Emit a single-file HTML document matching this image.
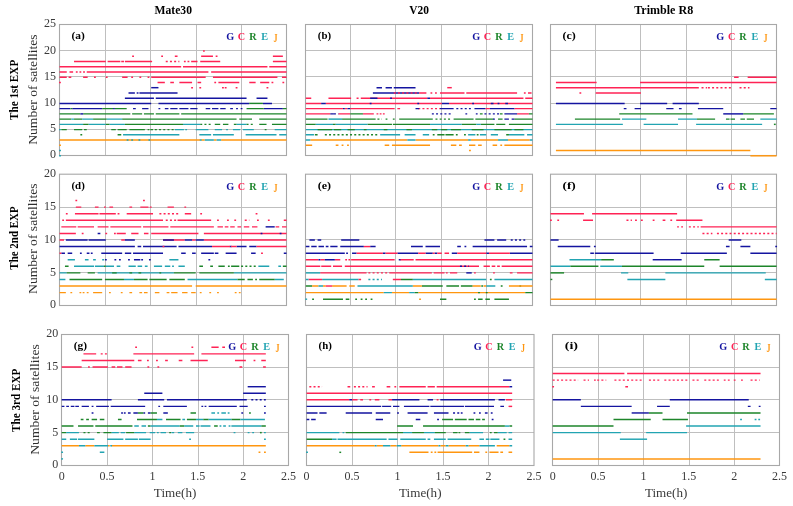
<!DOCTYPE html><html><head><meta charset="utf-8"><style>html,body{margin:0;padding:0;background:#fff;}svg{display:block;will-change:transform}text{font-family:"Liberation Serif",serif}</style></head><body><svg width="793" height="506" viewBox="0 0 793 506"><rect width="793" height="506" fill="#fff"/><path d="M105.50 24.50V155.50M150.50 24.50V155.50M196.50 24.50V155.50M241.50 24.50V155.50M59.50 129.50H286.50M59.50 103.50H286.50M59.50 76.50H286.50M59.50 50.50H286.50" stroke="#bfbfbf" stroke-width="1" fill="none"/><rect x="59.50" y="24.50" width="227.00" height="131.00" fill="none" stroke="#a8a8a8" stroke-width="1.1"/><path d="M202.96 51.00H204.78" stroke="#ff2355" stroke-width="1.45" fill="none"/><path d="M132.14 56.24H133.96M161.20 56.24H163.01M174.82 56.24H177.54M201.15 56.24H212.95M215.68 56.24H217.49M272.88 56.24H282.87" stroke="#ff2355" stroke-width="1.45" fill="none"/><path d="M74.03 61.48H105.81M107.62 61.48H120.34M121.24 61.48H123.97M124.88 61.48H152.12M183.90 61.48H185.71M187.53 61.48H189.34M191.16 61.48H197.52M200.24 61.48H220.22M272.88 61.48H286.50" stroke="#ff2355" stroke-width="1.45" fill="none"/><path d="M165.74 61.48H179.36" stroke="#ff2355" stroke-width="1.45" fill="none" stroke-dasharray="2 2.2"/><path d="M59.50 66.72H181.17M182.99 66.72H267.43M269.25 66.72H286.50" stroke="#ff2355" stroke-width="1.45" fill="none"/><path d="M59.50 71.96H66.76M69.49 71.96H73.12M75.84 71.96H77.66M79.48 71.96H81.29M83.11 71.96H84.92M86.74 71.96H208.41M211.14 71.96H286.50" stroke="#ff2355" stroke-width="1.45" fill="none"/><path d="M59.50 77.20H66.76M68.58 77.20H71.30M83.11 77.20H87.65M94.00 77.20H95.82M105.81 77.20H107.62M122.15 77.20H127.60M131.23 77.20H133.05M139.40 77.20H141.22M147.58 77.20H149.39M151.21 77.20H205.69M212.95 77.20H277.42M281.96 77.20H286.50" stroke="#ff2355" stroke-width="1.45" fill="none"/><path d="M59.05 82.44H60.85M157.56 82.44H164.83M170.28 82.44H173.91M179.36 82.44H192.07M197.52 82.44H201.15M214.32 82.44H216.12M218.40 82.44H239.28M249.27 82.44H255.63M260.17 82.44H269.25M271.53 82.44H273.33M282.42 82.44H284.22" stroke="#ff2355" stroke-width="1.45" fill="none"/><path d="M191.16 87.68H192.98M199.33 87.68H201.15M222.03 87.68H223.85M224.76 87.68H226.57M235.65 87.68H237.47M266.52 87.68H268.34" stroke="#ff2355" stroke-width="1.45" fill="none"/><path d="M151.21 87.68H158.47" stroke="#1414a0" stroke-width="1.45" fill="none"/><path d="M128.51 92.92H134.86M136.68 92.92H138.50M139.40 92.92H177.54" stroke="#1414a0" stroke-width="1.45" fill="none"/><path d="M124.88 98.16H153.93M155.75 98.16H246.55M256.54 98.16H267.43" stroke="#1414a0" stroke-width="1.45" fill="none"/><path d="M59.50 103.40H151.21M158.47 103.40H249.27M262.89 103.40H271.97" stroke="#1414a0" stroke-width="1.45" fill="none"/><path d="M249.27 103.40H262.89" stroke="#1d852a" stroke-width="1.45" fill="none"/><path d="M59.50 108.64H70.40M72.21 108.64H102.18M113.07 108.64H114.89M133.05 108.64H135.77M142.13 108.64H148.48M158.47 108.64H160.29M164.83 108.64H168.46M170.28 108.64H177.54M179.36 108.64H188.44M190.25 108.64H197.52M205.69 108.64H210.23M212.04 108.64H218.40M220.22 108.64H225.66M230.20 108.64H232.93M236.11 108.64H237.91M240.65 108.64H242.45M263.80 108.64H282.87" stroke="#1414a0" stroke-width="1.45" fill="none"/><path d="M70.40 108.64H72.21M102.18 108.64H113.07M114.89 108.64H126.69M246.55 108.64H263.80M282.87 108.64H286.50" stroke="#1d852a" stroke-width="1.45" fill="none"/><path d="M59.50 113.88H80.38M83.11 113.88H130.32M132.14 113.88H142.13M143.94 113.88H153.93M155.75 113.88H179.36M181.17 113.88H286.50" stroke="#1d852a" stroke-width="1.45" fill="none"/><path d="M80.38 113.88H83.11" stroke="#1414a0" stroke-width="1.45" fill="none"/><path d="M59.50 119.12H71.30M74.03 119.12H82.20M93.10 119.12H106.72M122.15 119.12H236.56M239.28 119.12H252.00M259.26 119.12H286.50" stroke="#1d852a" stroke-width="1.45" fill="none"/><path d="M71.30 119.12H74.03M82.20 119.12H93.10M106.72 119.12H122.15" stroke="#22a4b2" stroke-width="1.45" fill="none"/><path d="M59.50 124.36H83.11M88.56 124.36H105.81M109.44 124.36H124.88M182.99 124.36H200.24M236.56 124.36H246.55" stroke="#22a4b2" stroke-width="1.45" fill="none"/><path d="M83.11 124.36H88.56M105.81 124.36H109.44M124.88 124.36H182.99M214.77 124.36H220.22M222.94 124.36H228.39M233.84 124.36H236.56M259.26 124.36H266.52M271.97 124.36H286.50" stroke="#1d852a" stroke-width="1.45" fill="none"/><path d="M200.24 124.36H211.14M246.55 124.36H253.81" stroke="#1d852a" stroke-width="1.45" fill="none" stroke-dasharray="2 2.2"/><path d="M61.32 129.60H66.76M74.03 129.60H82.20M84.02 129.60H86.74M111.26 129.60H115.80M117.61 129.60H126.69M129.42 129.60H144.85M147.58 129.60H149.39M150.30 129.60H153.02M264.71 129.60H266.52" stroke="#1d852a" stroke-width="1.45" fill="none"/><path d="M154.84 129.60H174.82" stroke="#1d852a" stroke-width="1.45" fill="none" stroke-dasharray="2 2.2"/><path d="M59.05 129.60H60.85M174.82 129.60H183.90M185.27 129.60H187.07M195.70 129.60H208.41M214.77 129.60H222.03M226.13 129.60H227.93M232.93 129.60H240.19M242.92 129.60H253.81M274.70 129.60H286.50" stroke="#22a4b2" stroke-width="1.45" fill="none"/><path d="M80.38 134.84H82.20M117.61 134.84H121.24" stroke="#1d852a" stroke-width="1.45" fill="none"/><path d="M123.06 134.84H179.36M199.33 134.84H211.14M212.95 134.84H233.84M245.64 134.84H276.51M279.24 134.84H286.50" stroke="#22a4b2" stroke-width="1.45" fill="none"/><path d="M59.50 140.08H200.24M201.15 140.08H204.78M213.86 140.08H216.58M221.12 140.08H286.50" stroke="#ff960f" stroke-width="1.45" fill="none"/><path d="M126.69 140.08H128.51M131.23 140.08H133.05M138.50 140.08H140.31M148.48 140.08H150.30M199.79 140.08H201.59M204.78 140.08H213.86M216.58 140.08H221.12" stroke="#22a4b2" stroke-width="1.45" fill="none"/><path d="M59.14 145.32H60.94" stroke="#ff960f" stroke-width="1.45" fill="none"/><path d="M59.14 150.56H60.94" stroke="#22a4b2" stroke-width="1.45" fill="none"/><path d="M59.14 155.80H60.94" stroke="#22a4b2" stroke-width="1.45" fill="none"/><text x="71.50" y="39.40" font-weight="bold" font-size="10.6" textLength="13.3" lengthAdjust="spacingAndGlyphs">(a)</text><text x="226.20" y="40.20" font-weight="bold" font-size="10.2" fill="#1414a0">G</text><text x="237.80" y="40.20" font-weight="bold" font-size="10.2" fill="#ff2355">C</text><text x="249.20" y="40.20" font-weight="bold" font-size="10.2" fill="#1d852a">R</text><text x="261.30" y="40.20" font-weight="bold" font-size="10.2" fill="#22a4b2">E</text><text transform="translate(273.40,33.20) scale(0.78,1.3)" y="6.9" font-weight="bold" font-size="10.2" fill="#ff960f">J</text><text x="56.10" y="158.45" text-anchor="end" font-size="12" fill="#3a3a3a">0</text><text x="56.10" y="132.25" text-anchor="end" font-size="12" fill="#3a3a3a">5</text><text x="56.10" y="106.05" text-anchor="end" font-size="12" fill="#3a3a3a">10</text><text x="56.10" y="79.85" text-anchor="end" font-size="12" fill="#3a3a3a">15</text><text x="56.10" y="53.65" text-anchor="end" font-size="12" fill="#3a3a3a">20</text><text x="56.10" y="27.45" text-anchor="end" font-size="12" fill="#3a3a3a">25</text><path d="M350.50 24.50V155.50M395.50 24.50V155.50M441.50 24.50V155.50M486.50 24.50V155.50M305.80 129.50H532.50M305.80 103.50H532.50M305.80 76.50H532.50M305.80 50.50H532.50" stroke="#bfbfbf" stroke-width="1" fill="none"/><rect x="305.50" y="24.50" width="227.00" height="131.00" fill="none" stroke="#a8a8a8" stroke-width="1.1"/><path d="M376.53 87.68H381.97M385.60 87.68H391.95M393.76 87.68H415.52" stroke="#1414a0" stroke-width="1.45" fill="none"/><path d="M447.26 87.68H451.79" stroke="#ff2355" stroke-width="1.45" fill="none"/><path d="M372.90 92.92H419.15" stroke="#1414a0" stroke-width="1.45" fill="none"/><path d="M419.15 92.92H426.40M430.49 92.92H432.29M435.03 92.92H436.83M440.01 92.92H464.49M466.30 92.92H517.08M523.89 92.92H525.69M527.97 92.92H531.59" stroke="#ff2355" stroke-width="1.45" fill="none"/><path d="M393.76 92.92H419.15" stroke="#ff2355" stroke-width="1.45" fill="none" stroke-dasharray="2 2.2"/><path d="M305.80 98.16H311.24M328.47 98.16H351.14M362.02 98.16H427.31M430.03 98.16H523.43M525.25 98.16H532.50" stroke="#ff2355" stroke-width="1.45" fill="none"/><path d="M356.58 98.16H362.02" stroke="#ff2355" stroke-width="1.45" fill="none" stroke-dasharray="2 2.2"/><path d="M370.18 98.16H377.44M390.13 98.16H391.95M427.31 98.16H430.03" stroke="#1414a0" stroke-width="1.45" fill="none"/><path d="M305.80 103.40H321.22M325.75 103.40H441.82M449.07 103.40H532.50" stroke="#ff2355" stroke-width="1.45" fill="none"/><path d="M321.22 103.40H325.75M369.74 103.40H371.54M417.34 103.40H419.15M441.82 103.40H449.07M472.20 103.40H474.00M490.79 103.40H493.51M497.60 103.40H499.39M505.30 103.40H508.02" stroke="#1414a0" stroke-width="1.45" fill="none"/><path d="M305.80 108.64H342.98M344.79 108.64H347.51M350.23 108.64H394.67M397.39 108.64H400.11M485.35 108.64H489.88M514.36 108.64H532.50" stroke="#ff2355" stroke-width="1.45" fill="none"/><path d="M418.24 108.64H440.01" stroke="#ff2355" stroke-width="1.45" fill="none" stroke-dasharray="2 2.2"/><path d="M342.98 108.64H344.79M347.51 108.64H350.23M415.52 108.64H419.15M440.01 108.64H453.61M474.46 108.64H485.35M489.88 108.64H514.36" stroke="#1414a0" stroke-width="1.45" fill="none"/><path d="M456.33 108.64H470.84" stroke="#1414a0" stroke-width="1.45" fill="none" stroke-dasharray="2 2.2"/><path d="M305.80 113.88H330.28M338.44 113.88H350.23M362.93 113.88H373.81M376.53 113.88H378.34M379.71 113.88H381.51M382.88 113.88H384.69M517.08 113.88H528.87" stroke="#ff2355" stroke-width="1.45" fill="none"/><path d="M330.28 113.88H333.91M465.40 113.88H467.21M475.83 113.88H477.63M504.39 113.88H517.08" stroke="#1414a0" stroke-width="1.45" fill="none"/><path d="M333.91 113.88H338.44M431.85 113.88H451.79M484.44 113.88H499.86" stroke="#1414a0" stroke-width="1.45" fill="none" stroke-dasharray="2 2.2"/><path d="M350.23 113.88H362.93M479.91 113.88H482.63M499.86 113.88H502.58M528.87 113.88H532.50" stroke="#1d852a" stroke-width="1.45" fill="none"/><path d="M305.80 119.12H327.56M342.07 119.12H375.62M385.60 119.12H387.41M392.85 119.12H394.67M399.20 119.12H432.75M453.61 119.12H473.56M475.37 119.12H493.51M498.04 119.12H502.58M514.36 119.12H532.50" stroke="#1d852a" stroke-width="1.45" fill="none"/><path d="M377.44 119.12H381.97M435.47 119.12H451.79" stroke="#1d852a" stroke-width="1.45" fill="none" stroke-dasharray="2 2.2"/><path d="M328.47 119.12H342.07" stroke="#22a4b2" stroke-width="1.45" fill="none"/><path d="M493.06 119.12H494.86M504.39 119.12H508.92M511.64 119.12H514.36" stroke="#1414a0" stroke-width="1.45" fill="none"/><path d="M305.80 124.36H315.77M333.00 124.36H335.72M367.46 124.36H391.95M392.85 124.36H430.03M461.77 124.36H476.28M480.81 124.36H494.41M496.23 124.36H505.30M508.92 124.36H532.50" stroke="#1d852a" stroke-width="1.45" fill="none"/><path d="M315.77 124.36H333.00M335.72 124.36H367.46M430.03 124.36H461.77M476.28 124.36H480.81" stroke="#22a4b2" stroke-width="1.45" fill="none"/><path d="M305.80 129.60H532.50" stroke="#22a4b2" stroke-width="1.45" fill="none"/><path d="M317.59 129.60H332.10M333.91 129.60H341.17M347.51 129.60H354.77M363.84 129.60H366.56M383.78 129.60H387.41M406.45 129.60H411.90M431.85 129.60H437.29M440.91 129.60H447.26M450.89 129.60H460.86M471.74 129.60H483.53M494.41 129.60H511.64M514.36 129.60H523.43" stroke="#1d852a" stroke-width="1.45" fill="none"/><path d="M305.80 134.84H313.96M380.16 134.84H400.11M404.64 134.84H415.52M422.78 134.84H429.12M468.12 134.84H475.37M479.91 134.84H486.25M490.79 134.84H498.04M508.92 134.84H524.34M527.06 134.84H532.50" stroke="#22a4b2" stroke-width="1.45" fill="none"/><path d="M314.87 134.84H317.59M432.75 134.84H434.57M437.29 134.84H444.54M445.45 134.84H453.61M455.88 134.84H457.68M464.04 134.84H465.84M476.74 134.84H478.54M506.20 134.84H508.92" stroke="#1d852a" stroke-width="1.45" fill="none"/><path d="M324.84 134.84H377.44" stroke="#1d852a" stroke-width="1.45" fill="none" stroke-dasharray="2 2.2"/><path d="M310.33 140.08H407.36M415.52 140.08H468.12M470.84 140.08H498.04M508.02 140.08H529.78" stroke="#ff960f" stroke-width="1.45" fill="none"/><path d="M305.80 140.08H310.33M407.36 140.08H415.52M468.12 140.08H470.84M498.04 140.08H508.02M529.78 140.08H532.50" stroke="#22a4b2" stroke-width="1.45" fill="none"/><path d="M305.80 145.32H312.15M335.72 145.32H338.44M341.63 145.32H343.43M347.07 145.32H348.87M384.69 145.32H389.23M391.95 145.32H430.03M450.89 145.32H456.33M459.05 145.32H461.77M469.02 145.32H475.37M478.09 145.32H481.72M492.60 145.32H497.13M500.32 145.32H502.12M504.39 145.32H532.50" stroke="#ff960f" stroke-width="1.45" fill="none"/><path d="M469.02 150.56H470.84" stroke="#ff960f" stroke-width="1.45" fill="none"/><text x="317.80" y="39.40" font-weight="bold" font-size="10.6" textLength="13.3" lengthAdjust="spacingAndGlyphs">(b)</text><text x="472.20" y="40.20" font-weight="bold" font-size="10.2" fill="#1414a0">G</text><text x="483.80" y="40.20" font-weight="bold" font-size="10.2" fill="#ff2355">C</text><text x="495.20" y="40.20" font-weight="bold" font-size="10.2" fill="#1d852a">R</text><text x="507.30" y="40.20" font-weight="bold" font-size="10.2" fill="#22a4b2">E</text><text transform="translate(519.40,33.20) scale(0.78,1.3)" y="6.9" font-weight="bold" font-size="10.2" fill="#ff960f">J</text><path d="M595.50 24.50V155.50M640.50 24.50V155.50M686.50 24.50V155.50M731.50 24.50V155.50M550.50 129.50H776.60M550.50 103.50H776.60M550.50 76.50H776.60M550.50 50.50H776.60" stroke="#bfbfbf" stroke-width="1" fill="none"/><rect x="550.50" y="24.50" width="226.00" height="131.00" fill="none" stroke="#a8a8a8" stroke-width="1.1"/><path d="M734.09 77.20H738.62M747.66 77.20H776.60" stroke="#ff2355" stroke-width="1.45" fill="none"/><path d="M555.93 82.44H596.62M640.04 82.44H776.60" stroke="#ff2355" stroke-width="1.45" fill="none"/><path d="M555.93 87.68H698.82" stroke="#ff2355" stroke-width="1.45" fill="none"/><path d="M701.53 87.68H706.96M707.87 87.68H731.38M739.52 87.68H749.47" stroke="#ff2355" stroke-width="1.45" fill="none" stroke-dasharray="2 2.2"/><path d="M579.44 92.92H581.25M595.72 92.92H640.94" stroke="#ff2355" stroke-width="1.45" fill="none"/><path d="M555.93 103.40H624.66M640.04 103.40H667.17M672.59 103.40H698.82" stroke="#1414a0" stroke-width="1.45" fill="none"/><path d="M623.76 108.64H626.47M634.61 108.64H640.94M666.26 108.64H673.50M678.92 108.64H681.64M697.92 108.64H723.24M770.27 108.64H776.60" stroke="#1414a0" stroke-width="1.45" fill="none"/><path d="M619.23 113.88H692.49M743.14 113.88H773.89" stroke="#1d852a" stroke-width="1.45" fill="none"/><path d="M723.24 113.88H743.14" stroke="#1414a0" stroke-width="1.45" fill="none"/><path d="M574.92 119.12H620.14M697.01 119.12H715.10M725.95 119.12H729.57M730.48 119.12H735.00M740.42 119.12H744.95M746.75 119.12H753.99" stroke="#1d852a" stroke-width="1.45" fill="none"/><path d="M621.95 119.12H646.37M678.02 119.12H697.01M760.32 119.12H776.60" stroke="#22a4b2" stroke-width="1.45" fill="none"/><path d="M555.93 124.36H622.85M643.65 124.36H678.02M696.11 124.36H762.13" stroke="#22a4b2" stroke-width="1.45" fill="none"/><path d="M773.89 124.36H775.70" stroke="#1d852a" stroke-width="1.45" fill="none"/><path d="M555.93 150.56H750.37" stroke="#ff960f" stroke-width="1.45" fill="none"/><path d="M750.37 155.80H776.60" stroke="#ff960f" stroke-width="1.45" fill="none"/><text x="562.50" y="39.40" font-weight="bold" font-size="10.6" textLength="13.3" lengthAdjust="spacingAndGlyphs">(c)</text><text x="716.30" y="40.20" font-weight="bold" font-size="10.2" fill="#1414a0">G</text><text x="727.90" y="40.20" font-weight="bold" font-size="10.2" fill="#ff2355">C</text><text x="739.30" y="40.20" font-weight="bold" font-size="10.2" fill="#1d852a">R</text><text x="751.40" y="40.20" font-weight="bold" font-size="10.2" fill="#22a4b2">E</text><text transform="translate(763.50,33.20) scale(0.78,1.3)" y="6.9" font-weight="bold" font-size="10.2" fill="#ff960f">J</text><path d="M105.50 174.20V305.40M150.50 174.20V305.40M196.50 174.20V305.40M241.50 174.20V305.40M59.50 272.50H286.50M59.50 239.50H286.50M59.50 207.50H286.50" stroke="#bfbfbf" stroke-width="1" fill="none"/><rect x="59.50" y="174.20" width="227.00" height="131.30" fill="none" stroke="#a8a8a8" stroke-width="1.1"/><path d="M75.40 200.55H77.20M143.04 200.55H144.85" stroke="#ff2355" stroke-width="1.45" fill="none"/><path d="M75.84 207.12H81.29M94.91 207.12H98.54M103.99 207.12H105.81M109.44 207.12H113.07M129.42 207.12H132.14M140.31 207.12H148.48M149.85 207.12H151.65M167.55 207.12H173.91M184.36 207.12H186.16" stroke="#ff2355" stroke-width="1.45" fill="none"/><path d="M65.86 213.70H67.67M74.94 213.70H98.54M99.45 213.70H115.80M117.61 213.70H119.43M126.69 213.70H153.02M184.80 213.70H191.16M200.24 213.70H202.06M255.63 213.70H257.44" stroke="#ff2355" stroke-width="1.45" fill="none"/><path d="M159.38 213.70H180.26" stroke="#ff2355" stroke-width="1.45" fill="none" stroke-dasharray="2 2.2"/><path d="M62.22 220.28H64.04M65.86 220.28H163.01M177.54 220.28H211.14M217.05 220.28H218.85M227.03 220.28H228.83M234.30 220.28H236.10M257.00 220.28H258.80M267.89 220.28H269.69M283.78 220.28H286.50" stroke="#ff2355" stroke-width="1.45" fill="none"/><path d="M165.74 220.28H176.63M244.73 220.28H249.27" stroke="#ff2355" stroke-width="1.45" fill="none" stroke-dasharray="2 2.2"/><path d="M61.32 226.85H76.30M77.66 226.85H94.00M97.64 226.85H108.53M110.35 226.85H141.22M143.04 226.85H168.46M170.28 226.85H213.86M217.49 226.85H222.94M224.76 226.85H228.39M230.20 226.85H234.74M237.47 226.85H241.10M243.82 226.85H249.27M252.00 226.85H257.44M275.60 226.85H279.24M281.96 226.85H286.50" stroke="#ff2355" stroke-width="1.45" fill="none"/><path d="M265.62 226.85H274.70" stroke="#1414a0" stroke-width="1.45" fill="none"/><path d="M59.50 233.43H75.84M81.75 233.43H83.55M105.36 233.43H107.16M113.98 233.43H115.80M116.70 233.43H125.78M131.23 233.43H138.50M143.94 233.43H148.48M151.21 233.43H198.42M203.87 233.43H286.50" stroke="#ff2355" stroke-width="1.45" fill="none"/><path d="M97.64 233.43H100.36M260.63 233.43H262.43M279.70 233.43H281.50" stroke="#1414a0" stroke-width="1.45" fill="none"/><path d="M59.50 240.00H64.04M121.24 240.00H124.88M163.01 240.00H184.80M192.07 240.00H195.70M203.87 240.00H286.50" stroke="#ff2355" stroke-width="1.45" fill="none"/><path d="M65.86 240.00H87.65M88.56 240.00H105.81M124.88 240.00H134.86M163.01 240.00H173.91M184.80 240.00H192.07M195.70 240.00H203.87" stroke="#1414a0" stroke-width="1.45" fill="none"/><path d="M59.50 246.57H134.86M137.59 246.57H141.22M143.04 246.57H176.63M178.45 246.57H212.04M229.76 246.57H231.56M236.56 246.57H246.55M249.27 246.57H256.54" stroke="#1414a0" stroke-width="1.45" fill="none"/><path d="M162.57 246.57H164.37M212.04 246.57H230.20M231.11 246.57H236.56M256.54 246.57H286.50" stroke="#ff2355" stroke-width="1.45" fill="none"/><path d="M61.32 253.15H64.95M67.67 253.15H72.21M79.94 253.15H81.74M86.74 253.15H89.46M90.83 253.15H92.63M101.27 253.15H122.15M124.88 253.15H131.23M133.05 253.15H163.01M181.17 253.15H185.71M192.07 253.15H195.70M201.15 253.15H213.86M214.77 253.15H218.40M225.66 253.15H236.56M251.09 253.15H255.63M283.78 253.15H286.50" stroke="#1414a0" stroke-width="1.45" fill="none"/><path d="M59.50 253.15H61.32M261.08 253.15H262.89" stroke="#ff2355" stroke-width="1.45" fill="none"/><path d="M67.67 259.73H74.94M84.92 259.73H88.56M93.10 259.73H95.82M102.18 259.73H103.99M169.37 259.73H178.45" stroke="#22a4b2" stroke-width="1.45" fill="none"/><path d="M104.90 259.73H106.72M114.44 259.73H116.24M118.98 259.73H120.78M128.06 259.73H129.86M133.96 259.73H140.31M141.22 259.73H143.04M148.95 259.73H150.75M208.41 259.73H210.23" stroke="#1414a0" stroke-width="1.45" fill="none"/><path d="M64.95 266.30H68.58M103.99 266.30H105.81M199.33 266.30H202.96M210.23 266.30H212.95M218.40 266.30H224.76M227.94 266.30H229.74M231.11 266.30H239.28M282.87 266.30H286.50" stroke="#1d852a" stroke-width="1.45" fill="none"/><path d="M241.10 266.30H256.54" stroke="#1d852a" stroke-width="1.45" fill="none" stroke-dasharray="2 2.2"/><path d="M74.03 266.30H94.00M94.91 266.30H103.99M105.81 266.30H113.98M116.70 266.30H120.34M128.51 266.30H135.77M137.59 266.30H142.13M144.85 266.30H147.58M153.93 266.30H162.10M164.83 266.30H170.28M172.09 266.30H173.91M178.45 266.30H184.80M258.35 266.30H269.25M278.33 266.30H281.05" stroke="#22a4b2" stroke-width="1.45" fill="none"/><path d="M59.50 272.88H66.76M97.64 272.88H173.91M233.84 272.88H286.50" stroke="#22a4b2" stroke-width="1.45" fill="none"/><path d="M66.76 272.88H80.38M87.65 272.88H94.91M112.16 272.88H116.70M129.42 272.88H132.14M138.50 272.88H141.22M159.38 272.88H161.20M173.91 272.88H195.70M199.33 272.88H233.84" stroke="#1d852a" stroke-width="1.45" fill="none"/><path d="M59.50 279.45H65.40M123.97 279.45H133.96M187.53 279.45H237.47M274.70 279.45H283.78" stroke="#22a4b2" stroke-width="1.45" fill="none"/><path d="M69.49 279.45H102.18M104.90 279.45H123.97M133.96 279.45H147.58M149.39 279.45H166.64M169.37 279.45H184.80M237.47 279.45H244.73M247.46 279.45H252.90M255.18 279.45H256.98M259.26 279.45H274.70" stroke="#1d852a" stroke-width="1.45" fill="none"/><path d="M59.50 286.02H192.07M195.70 286.02H286.50" stroke="#ff960f" stroke-width="1.45" fill="none"/><path d="M59.50 292.60H65.86M70.40 292.60H72.21M79.48 292.60H81.29M82.66 292.60H84.46M86.74 292.60H88.56M93.10 292.60H102.18M108.99 292.60H110.79M120.80 292.60H122.60M129.42 292.60H132.14M139.40 292.60H142.13M143.94 292.60H147.58M154.84 292.60H159.38M166.64 292.60H169.37M171.18 292.60H177.54M182.08 292.60H187.53M191.16 292.60H195.70M199.79 292.60H201.59M209.32 292.60H211.14M217.05 292.60H218.85M234.74 292.60H236.56M238.84 292.60H240.64" stroke="#ff960f" stroke-width="1.45" fill="none"/><text x="71.50" y="189.10" font-weight="bold" font-size="10.6" textLength="13.3" lengthAdjust="spacingAndGlyphs">(d)</text><text x="226.20" y="189.90" font-weight="bold" font-size="10.2" fill="#1414a0">G</text><text x="237.80" y="189.90" font-weight="bold" font-size="10.2" fill="#ff2355">C</text><text x="249.20" y="189.90" font-weight="bold" font-size="10.2" fill="#1d852a">R</text><text x="261.30" y="189.90" font-weight="bold" font-size="10.2" fill="#22a4b2">E</text><text transform="translate(273.40,182.90) scale(0.78,1.3)" y="6.9" font-weight="bold" font-size="10.2" fill="#ff960f">J</text><text x="56.10" y="308.35" text-anchor="end" font-size="12" fill="#3a3a3a">0</text><text x="56.10" y="275.55" text-anchor="end" font-size="12" fill="#3a3a3a">5</text><text x="56.10" y="242.75" text-anchor="end" font-size="12" fill="#3a3a3a">10</text><text x="56.10" y="209.95" text-anchor="end" font-size="12" fill="#3a3a3a">15</text><text x="56.10" y="177.15" text-anchor="end" font-size="12" fill="#3a3a3a">20</text><path d="M350.50 174.20V305.40M395.50 174.20V305.40M441.50 174.20V305.40M486.50 174.20V305.40M305.80 272.50H532.50M305.80 239.50H532.50M305.80 207.50H532.50" stroke="#bfbfbf" stroke-width="1" fill="none"/><rect x="305.50" y="174.20" width="227.00" height="131.30" fill="none" stroke="#a8a8a8" stroke-width="1.1"/><path d="M309.43 240.00H314.87M317.59 240.00H321.22M341.17 240.00H359.30M484.44 240.00H494.41M497.13 240.00H506.20" stroke="#1414a0" stroke-width="1.45" fill="none"/><path d="M510.74 240.00H525.25" stroke="#1414a0" stroke-width="1.45" fill="none" stroke-dasharray="2 2.2"/><path d="M305.80 246.57H309.43M311.24 246.57H316.68M318.50 246.57H323.94M325.75 246.57H328.47M330.28 246.57H337.54M340.26 246.57H363.84M370.18 246.57H375.62M410.99 246.57H422.78M425.50 246.57H440.01M457.24 246.57H460.86M464.49 246.57H466.30M472.65 246.57H527.06M529.78 246.57H532.50" stroke="#1414a0" stroke-width="1.45" fill="none"/><path d="M363.84 246.57H370.18" stroke="#ff2355" stroke-width="1.45" fill="none"/><path d="M305.80 253.15H344.79M346.16 253.15H347.96M352.05 253.15H356.58M382.88 253.15H385.60M397.39 253.15H418.24M425.50 253.15H432.75M434.57 253.15H437.29M451.79 253.15H457.24M486.25 253.15H488.97M509.83 253.15H532.50" stroke="#1414a0" stroke-width="1.45" fill="none"/><path d="M356.58 253.15H382.88M385.60 253.15H397.39M418.24 253.15H425.50M432.75 253.15H434.57M437.29 253.15H441.82M444.54 253.15H449.07M457.24 253.15H486.25M488.97 253.15H509.83" stroke="#ff2355" stroke-width="1.45" fill="none"/><path d="M305.80 259.73H318.50M320.31 259.73H324.84M334.82 259.73H340.26M345.25 259.73H347.05M348.42 259.73H350.23M351.14 259.73H394.67M400.11 259.73H413.71M415.52 259.73H532.50" stroke="#ff2355" stroke-width="1.45" fill="none"/><path d="M318.50 259.73H320.31M324.84 259.73H334.82M398.75 259.73H400.55" stroke="#1414a0" stroke-width="1.45" fill="none"/><path d="M305.80 266.30H320.31M321.22 266.30H331.19M333.00 266.30H342.07M344.79 266.30H479.00M483.53 266.30H489.88M491.69 266.30H495.32M497.13 266.30H499.86M501.67 266.30H532.50" stroke="#ff2355" stroke-width="1.45" fill="none"/><path d="M459.96 266.30H469.02" stroke="#1414a0" stroke-width="1.45" fill="none" stroke-dasharray="2 2.2"/><path d="M305.80 272.88H320.31" stroke="#22a4b2" stroke-width="1.45" fill="none"/><path d="M320.31 272.88H366.56M389.23 272.88H431.85M433.66 272.88H444.54M445.91 272.88H447.71M449.98 272.88H457.24M474.02 272.88H475.82M493.06 272.88H494.86M509.83 272.88H512.55M517.08 272.88H532.50" stroke="#ff2355" stroke-width="1.45" fill="none"/><path d="M368.37 272.88H389.23" stroke="#ff2355" stroke-width="1.45" fill="none" stroke-dasharray="2 2.2"/><path d="M466.30 272.88H471.74" stroke="#1414a0" stroke-width="1.45" fill="none"/><path d="M308.52 279.45H322.12M358.39 279.45H361.11M392.85 279.45H401.01" stroke="#ff2355" stroke-width="1.45" fill="none"/><path d="M305.80 279.45H308.52M322.12 279.45H358.39M412.80 279.45H486.25M494.41 279.45H532.50" stroke="#22a4b2" stroke-width="1.45" fill="none"/><path d="M368.37 279.45H381.97" stroke="#22a4b2" stroke-width="1.45" fill="none" stroke-dasharray="2 2.2"/><path d="M401.01 279.45H412.80M489.88 279.45H491.69" stroke="#1d852a" stroke-width="1.45" fill="none"/><path d="M305.80 286.02H312.15M421.87 286.02H442.73M446.35 286.02H459.05M460.86 286.02H472.65M481.27 286.02H483.07M500.76 286.02H502.58M519.36 286.02H521.16" stroke="#1d852a" stroke-width="1.45" fill="none"/><path d="M312.15 286.02H318.50M323.03 286.02H325.75M332.10 286.02H346.61M349.33 286.02H354.77M412.80 286.02H421.87M472.65 286.02H480.81M483.53 286.02H486.25M508.92 286.02H532.50" stroke="#ff960f" stroke-width="1.45" fill="none"/><path d="M318.50 286.02H323.03M357.49 286.02H412.80M486.25 286.02H495.32" stroke="#22a4b2" stroke-width="1.45" fill="none"/><path d="M325.75 286.02H332.10" stroke="#ff2355" stroke-width="1.45" fill="none"/><path d="M305.80 292.60H383.78M391.95 292.60H409.18M418.24 292.60H525.25" stroke="#ff960f" stroke-width="1.45" fill="none"/><path d="M383.78 292.60H391.95M409.18 292.60H414.62" stroke="#22a4b2" stroke-width="1.45" fill="none"/><path d="M414.62 292.60H418.24M478.09 292.60H479.91M485.81 292.60H487.61M525.25 292.60H532.50" stroke="#1d852a" stroke-width="1.45" fill="none"/><path d="M305.35 299.18H307.15" stroke="#22a4b2" stroke-width="1.45" fill="none"/><path d="M312.15 299.18H313.96M323.03 299.18H342.98M345.70 299.18H349.33M355.23 299.18H357.03M360.67 299.18H362.47M365.20 299.18H367.00M370.64 299.18H372.44M440.01 299.18H446.35M474.02 299.18H475.82M478.09 299.18H482.63M485.35 299.18H489.88M494.41 299.18H508.92" stroke="#1d852a" stroke-width="1.45" fill="none"/><path d="M419.15 299.18H420.96" stroke="#ff960f" stroke-width="1.45" fill="none"/><text x="317.80" y="189.10" font-weight="bold" font-size="10.6" textLength="13.3" lengthAdjust="spacingAndGlyphs">(e)</text><text x="472.20" y="189.90" font-weight="bold" font-size="10.2" fill="#1414a0">G</text><text x="483.80" y="189.90" font-weight="bold" font-size="10.2" fill="#ff2355">C</text><text x="495.20" y="189.90" font-weight="bold" font-size="10.2" fill="#1d852a">R</text><text x="507.30" y="189.90" font-weight="bold" font-size="10.2" fill="#22a4b2">E</text><text transform="translate(519.40,182.90) scale(0.78,1.3)" y="6.9" font-weight="bold" font-size="10.2" fill="#ff960f">J</text><path d="M595.50 174.20V305.40M640.50 174.20V305.40M686.50 174.20V305.40M731.50 174.20V305.40M550.50 272.50H776.60M550.50 239.50H776.60M550.50 207.50H776.60" stroke="#bfbfbf" stroke-width="1" fill="none"/><rect x="550.50" y="174.20" width="226.00" height="131.30" fill="none" stroke="#a8a8a8" stroke-width="1.1"/><path d="M550.50 213.70H583.96M592.10 213.70H677.12" stroke="#ff2355" stroke-width="1.45" fill="none"/><path d="M550.05 220.28H551.85M557.29 220.28H559.09M583.06 220.28H593.01M635.07 220.28H636.87M640.94 220.28H642.75M652.70 220.28H654.51M662.65 220.28H665.36M670.34 220.28H672.14M676.21 220.28H702.44" stroke="#ff2355" stroke-width="1.45" fill="none"/><path d="M626.47 220.28H631.90" stroke="#ff2355" stroke-width="1.45" fill="none" stroke-dasharray="2 2.2"/><path d="M677.12 226.85H678.92M681.19 226.85H682.99M700.63 226.85H776.60" stroke="#ff2355" stroke-width="1.45" fill="none"/><path d="M688.87 226.85H698.82" stroke="#ff2355" stroke-width="1.45" fill="none" stroke-dasharray="2 2.2"/><path d="M702.44 233.43H712.39M716.91 233.43H776.60" stroke="#ff2355" stroke-width="1.45" fill="none" stroke-dasharray="2 2.2"/><path d="M550.50 240.00H558.64M728.67 240.00H741.33" stroke="#1414a0" stroke-width="1.45" fill="none"/><path d="M557.74 246.57H590.29M593.91 246.57H595.72M725.95 246.57H729.57M740.42 246.57H750.37M775.25 246.57H777.05" stroke="#1414a0" stroke-width="1.45" fill="none"/><path d="M590.29 253.15H593.91M594.82 253.15H653.60M680.73 253.15H726.86M750.37 253.15H776.60" stroke="#1414a0" stroke-width="1.45" fill="none"/><path d="M569.49 259.73H601.15" stroke="#22a4b2" stroke-width="1.45" fill="none"/><path d="M601.15 259.73H613.81M704.25 259.73H719.62" stroke="#1d852a" stroke-width="1.45" fill="none"/><path d="M652.70 259.73H681.64" stroke="#1414a0" stroke-width="1.45" fill="none"/><path d="M550.50 266.30H570.40M600.24 266.30H621.95" stroke="#22a4b2" stroke-width="1.45" fill="none"/><path d="M570.40 266.30H598.43M621.95 266.30H704.25M719.62 266.30H776.60" stroke="#1d852a" stroke-width="1.45" fill="none"/><path d="M550.50 272.88H564.07" stroke="#1d852a" stroke-width="1.45" fill="none"/><path d="M621.04 272.88H628.28M665.36 272.88H765.75" stroke="#22a4b2" stroke-width="1.45" fill="none"/><path d="M550.50 279.45H552.31" stroke="#1d852a" stroke-width="1.45" fill="none"/><path d="M627.37 279.45H665.36M764.84 279.45H776.60" stroke="#22a4b2" stroke-width="1.45" fill="none"/><path d="M550.50 299.18H776.60" stroke="#ff960f" stroke-width="1.45" fill="none"/><text x="562.50" y="189.10" font-weight="bold" font-size="10.6" textLength="13.3" lengthAdjust="spacingAndGlyphs">(f)</text><text x="716.30" y="189.90" font-weight="bold" font-size="10.2" fill="#1414a0">G</text><text x="727.90" y="189.90" font-weight="bold" font-size="10.2" fill="#ff2355">C</text><text x="739.30" y="189.90" font-weight="bold" font-size="10.2" fill="#1d852a">R</text><text x="751.40" y="189.90" font-weight="bold" font-size="10.2" fill="#22a4b2">E</text><text transform="translate(763.50,182.90) scale(0.78,1.3)" y="6.9" font-weight="bold" font-size="10.2" fill="#ff960f">J</text><path d="M107.50 334.50V465.40M152.50 334.50V465.40M198.50 334.50V465.40M243.50 334.50V465.40M61.70 432.50H288.50M61.70 399.50H288.50M61.70 367.50H288.50" stroke="#bfbfbf" stroke-width="1" fill="none"/><rect x="61.50" y="334.50" width="227.00" height="131.00" fill="none" stroke="#a8a8a8" stroke-width="1.1"/><path d="M135.18 347.33H137.00M191.43 347.33H193.24M211.39 347.33H218.65M222.27 347.33H225.00" stroke="#ff2355" stroke-width="1.45" fill="none"/><path d="M83.47 353.89H96.17M133.37 353.89H194.15M201.41 353.89H265.82" stroke="#ff2355" stroke-width="1.45" fill="none"/><path d="M100.71 353.89H107.97" stroke="#ff2355" stroke-width="1.45" fill="none" stroke-dasharray="2 2.2"/><path d="M81.66 360.45H134.28M137.90 360.45H141.53M146.98 360.45H148.79M156.05 360.45H157.86M165.12 360.45H167.84M178.73 360.45H182.36M190.52 360.45H207.76M234.98 360.45H245.86M253.58 360.45H255.38M261.28 360.45H265.82" stroke="#ff2355" stroke-width="1.45" fill="none"/><path d="M61.70 367.01H81.66M88.01 367.01H89.82M92.54 367.01H107.97M111.60 367.01H115.22M117.04 367.01H122.48M125.20 367.01H131.55M147.44 367.01H149.24M157.42 367.01H159.22M239.51 367.01H242.23M263.10 367.01H265.82" stroke="#ff2355" stroke-width="1.45" fill="none"/><path d="M247.68 386.70H265.82" stroke="#1414a0" stroke-width="1.45" fill="none"/><path d="M144.26 393.27H162.40M243.14 393.27H265.82" stroke="#1414a0" stroke-width="1.45" fill="none"/><path d="M61.70 399.83H111.60M137.90 399.83H164.21M166.94 399.83H246.77" stroke="#1414a0" stroke-width="1.45" fill="none"/><path d="M251.30 399.83H265.82" stroke="#1414a0" stroke-width="1.45" fill="none" stroke-dasharray="2 2.2"/><path d="M61.70 406.39H64.42M66.24 406.39H68.96M70.77 406.39H74.40M75.31 406.39H78.94M81.66 406.39H88.92M91.64 406.39H93.45M96.17 406.39H108.87M110.69 406.39H145.16M158.32 406.39H160.12M163.31 406.39H186.89M201.41 406.39H203.22M204.59 406.39H206.39M208.67 406.39H236.79M239.51 406.39H247.68M264.01 406.39H265.82" stroke="#1414a0" stroke-width="1.45" fill="none"/><path d="M91.64 412.96H93.45M121.13 412.96H122.93M123.85 412.96H125.65M127.93 412.96H130.65M133.37 412.96H137.90M143.35 412.96H145.16M147.88 412.96H150.61M163.31 412.96H167.84M241.33 412.96H243.14M264.01 412.96H265.82" stroke="#1414a0" stroke-width="1.45" fill="none"/><path d="M137.90 412.96H143.35M150.61 412.96H156.96M190.52 412.96H195.97M249.04 412.96H250.84" stroke="#1d852a" stroke-width="1.45" fill="none"/><path d="M211.39 412.96H215.02M217.29 412.96H219.09M221.37 412.96H225.90M227.72 412.96H229.53" stroke="#22a4b2" stroke-width="1.45" fill="none"/><path d="M80.75 419.52H83.47M86.19 419.52H88.92M91.64 419.52H97.08M99.80 419.52H104.34M117.95 419.52H121.58M137.00 419.52H156.96M166.03 419.52H180.54M186.89 419.52H195.97M203.22 419.52H208.67M231.35 419.52H240.42" stroke="#1d852a" stroke-width="1.45" fill="none"/><path d="M156.96 419.52H162.40M182.36 419.52H185.08M195.97 419.52H203.22M208.67 419.52H231.35M240.42 419.52H264.91" stroke="#22a4b2" stroke-width="1.45" fill="none"/><path d="M61.70 426.08H73.49M78.03 426.08H93.45M95.27 426.08H132.46M147.88 426.08H150.61M179.64 426.08H184.17M214.11 426.08H217.74M261.28 426.08H265.82" stroke="#1d852a" stroke-width="1.45" fill="none"/><path d="M134.28 426.08H138.81M141.53 426.08H146.07M150.61 426.08H179.64M184.17 426.08H193.24M195.97 426.08H199.59M200.50 426.08H210.48M219.55 426.08H221.37M223.18 426.08H225.90M228.62 426.08H230.44M231.35 426.08H261.28" stroke="#22a4b2" stroke-width="1.45" fill="none"/><path d="M61.70 432.64H66.24M97.08 432.64H99.80M103.43 432.64H111.60M126.11 432.64H134.28M169.21 432.64H171.01" stroke="#1d852a" stroke-width="1.45" fill="none"/><path d="M83.47 432.64H91.64" stroke="#1d852a" stroke-width="1.45" fill="none" stroke-dasharray="2 2.2"/><path d="M66.24 432.64H78.94M111.60 432.64H118.85M120.67 432.64H125.20M134.28 432.64H146.07M149.70 432.64H155.14M156.96 432.64H158.77M160.58 432.64H166.03M171.47 432.64H174.19M177.82 432.64H182.36M185.99 432.64H194.15M233.62 432.64H235.42M247.68 432.64H249.49M252.21 432.64H254.03M264.01 432.64H265.82" stroke="#22a4b2" stroke-width="1.45" fill="none"/><path d="M259.93 432.64H261.73" stroke="#1d852a" stroke-width="1.45" fill="none"/><path d="M61.70 439.21H66.24M69.86 439.21H77.12M78.03 439.21H94.36M107.06 439.21H123.39M125.20 439.21H137.90M138.81 439.21H150.61M189.17 439.21H190.97M264.01 439.21H265.82" stroke="#22a4b2" stroke-width="1.45" fill="none"/><path d="M61.70 445.77H78.94M85.29 445.77H94.36M107.97 445.77H109.78M111.60 445.77H265.82" stroke="#ff960f" stroke-width="1.45" fill="none"/><path d="M78.94 445.77H85.29M94.36 445.77H107.97M110.24 445.77H112.04" stroke="#22a4b2" stroke-width="1.45" fill="none"/><path d="M61.25 452.33H63.05M99.80 452.33H104.34" stroke="#22a4b2" stroke-width="1.45" fill="none"/><path d="M258.56 452.33H260.38M264.01 452.33H265.82" stroke="#ff960f" stroke-width="1.45" fill="none"/><path d="M61.25 458.90H63.05" stroke="#22a4b2" stroke-width="1.45" fill="none"/><text x="73.70" y="349.40" font-weight="bold" font-size="10.6" textLength="13.3" lengthAdjust="spacingAndGlyphs">(g)</text><text x="228.20" y="350.20" font-weight="bold" font-size="10.2" fill="#1414a0">G</text><text x="239.80" y="350.20" font-weight="bold" font-size="10.2" fill="#ff2355">C</text><text x="251.20" y="350.20" font-weight="bold" font-size="10.2" fill="#1d852a">R</text><text x="263.30" y="350.20" font-weight="bold" font-size="10.2" fill="#22a4b2">E</text><text transform="translate(275.40,343.20) scale(0.78,1.3)" y="6.9" font-weight="bold" font-size="10.2" fill="#ff960f">J</text><text x="58.30" y="468.35" text-anchor="end" font-size="12" fill="#3a3a3a">0</text><text x="58.30" y="435.62" text-anchor="end" font-size="12" fill="#3a3a3a">5</text><text x="58.30" y="402.90" text-anchor="end" font-size="12" fill="#3a3a3a">10</text><text x="58.30" y="370.18" text-anchor="end" font-size="12" fill="#3a3a3a">15</text><text x="58.30" y="337.45" text-anchor="end" font-size="12" fill="#3a3a3a">20</text><text x="61.70" y="479.50" text-anchor="middle" font-size="12" fill="#3a3a3a">0</text><text x="107.06" y="479.50" text-anchor="middle" font-size="12" fill="#3a3a3a">0.5</text><text x="152.42" y="479.50" text-anchor="middle" font-size="12" fill="#3a3a3a">1</text><text x="197.78" y="479.50" text-anchor="middle" font-size="12" fill="#3a3a3a">1.5</text><text x="243.14" y="479.50" text-anchor="middle" font-size="12" fill="#3a3a3a">2</text><text x="288.50" y="479.50" text-anchor="middle" font-size="12" fill="#3a3a3a">2.5</text><text x="175.10" y="496.80" text-anchor="middle" font-size="13.1" fill="#3a3a3a">Time(h)</text><path d="M352.50 334.50V465.40M397.50 334.50V465.40M443.50 334.50V465.40M488.50 334.50V465.40M306.60 432.50H534.00M306.60 399.50H534.00M306.60 367.50H534.00" stroke="#bfbfbf" stroke-width="1" fill="none"/><rect x="306.50" y="334.50" width="227.50" height="131.00" fill="none" stroke="#a8a8a8" stroke-width="1.1"/><path d="M503.07 380.14H511.26" stroke="#1414a0" stroke-width="1.45" fill="none"/><path d="M347.53 386.70H350.26M372.09 386.70H374.82M386.64 386.70H390.28M394.39 386.70H396.19M399.38 386.70H425.76M427.58 386.70H434.85M436.67 386.70H509.44" stroke="#ff2355" stroke-width="1.45" fill="none"/><path d="M309.33 386.70H322.06M353.90 386.70H367.54" stroke="#ff2355" stroke-width="1.45" fill="none" stroke-dasharray="2 2.2"/><path d="M509.44 386.70H512.17" stroke="#1414a0" stroke-width="1.45" fill="none"/><path d="M306.60 393.27H512.17" stroke="#ff2355" stroke-width="1.45" fill="none"/><path d="M306.60 399.83H349.35M352.08 399.83H357.54M360.27 399.83H363.00M369.36 399.83H371.18M374.82 399.83H379.37M388.46 399.83H392.10M436.67 399.83H438.49M505.80 399.83H512.17" stroke="#ff2355" stroke-width="1.45" fill="none"/><path d="M349.35 399.83H352.08M392.10 399.83H419.39M427.58 399.83H433.03M440.31 399.83H494.89M498.53 399.83H504.89" stroke="#1414a0" stroke-width="1.45" fill="none"/><path d="M306.60 406.39H381.19M382.10 406.39H391.19M393.01 406.39H399.38M403.93 406.39H429.40M430.31 406.39H463.96M464.87 406.39H493.98M500.34 406.39H503.98" stroke="#1414a0" stroke-width="1.45" fill="none"/><path d="M508.53 406.39H512.17" stroke="#ff2355" stroke-width="1.45" fill="none"/><path d="M306.60 412.96H317.52M319.33 412.96H326.61M345.71 412.96H372.09M375.73 412.96H390.28M397.11 412.96H398.91M407.57 412.96H427.58M433.94 412.96H448.50M460.79 412.96H462.59M473.52 412.96H475.32M478.98 412.96H480.78M484.88 412.96H487.61M490.80 412.96H492.60" stroke="#1414a0" stroke-width="1.45" fill="none"/><path d="M453.05 412.96H459.41" stroke="#1414a0" stroke-width="1.45" fill="none" stroke-dasharray="2 2.2"/><path d="M306.60 419.52H309.33M311.15 419.52H315.70M375.73 419.52H383.01M415.75 419.52H420.30M437.14 419.52H438.94M491.71 419.52H493.51" stroke="#1414a0" stroke-width="1.45" fill="none"/><path d="M442.13 419.52H453.05M454.86 419.52H466.69M468.51 419.52H473.97M475.79 419.52H480.33M482.15 419.52H484.88" stroke="#1d852a" stroke-width="1.45" fill="none"/><path d="M397.11 426.08H413.02M423.03 426.08H504.89M509.44 426.08H512.17" stroke="#1d852a" stroke-width="1.45" fill="none"/><path d="M504.89 426.08H509.44" stroke="#22a4b2" stroke-width="1.45" fill="none"/><path d="M306.60 432.64H339.35M342.54 432.64H344.34M403.02 432.64H412.11M423.94 432.64H434.85M469.42 432.64H483.06M497.62 432.64H506.71M508.53 432.64H512.17" stroke="#22a4b2" stroke-width="1.45" fill="none"/><path d="M345.71 432.64H403.02M412.11 432.64H423.94M434.85 432.64H445.77M453.05 432.64H457.59M458.50 432.64H460.32M464.87 432.64H469.42M489.89 432.64H491.69M493.98 432.64H497.62" stroke="#1d852a" stroke-width="1.45" fill="none"/><path d="M306.60 439.21H332.07M503.54 439.21H505.34" stroke="#1d852a" stroke-width="1.45" fill="none"/><path d="M332.07 439.21H336.62M337.53 439.21H386.64M388.46 439.21H397.56M400.29 439.21H425.76M427.58 439.21H430.31M433.94 439.21H445.77M447.59 439.21H471.24M479.42 439.21H483.97M485.79 439.21H489.43M490.34 439.21H499.44M508.53 439.21H512.17" stroke="#22a4b2" stroke-width="1.45" fill="none"/><path d="M306.60 445.77H374.82M376.64 445.77H383.01M390.28 445.77H396.65M401.20 445.77H438.49M440.31 445.77H445.77M448.50 445.77H465.78M468.51 445.77H479.42M496.71 445.77H509.44" stroke="#ff960f" stroke-width="1.45" fill="none"/><path d="M374.82 445.77H376.64M383.01 445.77H390.28M396.65 445.77H401.20M438.49 445.77H440.31M445.77 445.77H448.50M465.78 445.77H468.51M479.42 445.77H494.89M509.44 445.77H512.17" stroke="#22a4b2" stroke-width="1.45" fill="none"/><path d="M306.15 452.33H307.95" stroke="#22a4b2" stroke-width="1.45" fill="none"/><path d="M339.35 452.33H341.16" stroke="#1d852a" stroke-width="1.45" fill="none"/><path d="M409.38 452.33H428.49M430.77 452.33H432.57M434.41 452.33H436.21M437.58 452.33H472.15M473.97 452.33H479.42M485.35 452.33H487.15M489.43 452.33H498.53M500.34 452.33H503.07M508.53 452.33H512.17" stroke="#ff960f" stroke-width="1.45" fill="none"/><text x="318.60" y="349.40" font-weight="bold" font-size="10.6" textLength="13.3" lengthAdjust="spacingAndGlyphs">(h)</text><text x="473.70" y="350.20" font-weight="bold" font-size="10.2" fill="#1414a0">G</text><text x="485.30" y="350.20" font-weight="bold" font-size="10.2" fill="#ff2355">C</text><text x="496.70" y="350.20" font-weight="bold" font-size="10.2" fill="#1d852a">R</text><text x="508.80" y="350.20" font-weight="bold" font-size="10.2" fill="#22a4b2">E</text><text transform="translate(520.90,343.20) scale(0.78,1.3)" y="6.9" font-weight="bold" font-size="10.2" fill="#ff960f">J</text><text x="306.60" y="479.50" text-anchor="middle" font-size="12" fill="#3a3a3a">0</text><text x="352.08" y="479.50" text-anchor="middle" font-size="12" fill="#3a3a3a">0.5</text><text x="397.56" y="479.50" text-anchor="middle" font-size="12" fill="#3a3a3a">1</text><text x="443.04" y="479.50" text-anchor="middle" font-size="12" fill="#3a3a3a">1.5</text><text x="488.52" y="479.50" text-anchor="middle" font-size="12" fill="#3a3a3a">2</text><text x="534.00" y="479.50" text-anchor="middle" font-size="12" fill="#3a3a3a">2.5</text><text x="420.30" y="496.80" text-anchor="middle" font-size="13.1" fill="#3a3a3a">Time(h)</text><path d="M598.50 334.50V465.40M643.50 334.50V465.40M689.50 334.50V465.40M734.50 334.50V465.40M552.70 432.50H779.60M552.70 399.50H779.60M552.70 367.50H779.60" stroke="#bfbfbf" stroke-width="1" fill="none"/><rect x="552.50" y="334.50" width="227.00" height="131.00" fill="none" stroke="#a8a8a8" stroke-width="1.1"/><path d="M552.70 373.58H624.40M627.12 373.58H760.54" stroke="#ff2355" stroke-width="1.45" fill="none"/><path d="M594.00 380.14H595.80M723.79 380.14H725.59M727.87 380.14H729.68M733.77 380.14H735.57M741.03 380.14H742.83" stroke="#ff2355" stroke-width="1.45" fill="none"/><path d="M552.70 380.14H578.11M583.56 380.14H589.00M597.17 380.14H606.25M614.42 380.14H643.46M648.91 380.14H659.80M664.33 380.14H688.84M692.47 380.14H700.64M704.27 380.14H718.79M750.56 380.14H759.63" stroke="#ff2355" stroke-width="1.45" fill="none" stroke-dasharray="2 2.2"/><path d="M552.25 386.70H554.05M625.31 386.70H628.03" stroke="#ff2355" stroke-width="1.45" fill="none"/><path d="M552.70 399.83H580.84M669.78 399.83H748.74" stroke="#1414a0" stroke-width="1.45" fill="none"/><path d="M580.84 406.39H631.66M657.07 406.39H669.78M747.83 406.39H750.56M758.73 406.39H760.54" stroke="#1414a0" stroke-width="1.45" fill="none"/><path d="M631.66 412.96H648.91" stroke="#1414a0" stroke-width="1.45" fill="none"/><path d="M648.91 412.96H662.52M687.02 412.96H760.54" stroke="#1d852a" stroke-width="1.45" fill="none"/><path d="M613.51 419.52H650.72M662.52 419.52H687.93" stroke="#1d852a" stroke-width="1.45" fill="none"/><path d="M740.13 419.52H741.93M754.65 419.52H756.45M758.28 419.52H760.08" stroke="#22a4b2" stroke-width="1.45" fill="none"/><path d="M552.70 426.08H613.51" stroke="#1d852a" stroke-width="1.45" fill="none"/><path d="M686.12 426.08H760.54" stroke="#22a4b2" stroke-width="1.45" fill="none"/><path d="M552.70 432.64H620.77M646.18 432.64H687.02" stroke="#22a4b2" stroke-width="1.45" fill="none"/><path d="M619.86 439.21H647.09" stroke="#22a4b2" stroke-width="1.45" fill="none"/><path d="M552.70 458.90H760.54" stroke="#ff960f" stroke-width="1.45" fill="none"/><text x="564.70" y="349.40" font-weight="bold" font-size="10.6" textLength="13.3" lengthAdjust="spacingAndGlyphs">(i)</text><text x="719.30" y="350.20" font-weight="bold" font-size="10.2" fill="#1414a0">G</text><text x="730.90" y="350.20" font-weight="bold" font-size="10.2" fill="#ff2355">C</text><text x="742.30" y="350.20" font-weight="bold" font-size="10.2" fill="#1d852a">R</text><text x="754.40" y="350.20" font-weight="bold" font-size="10.2" fill="#22a4b2">E</text><text transform="translate(766.50,343.20) scale(0.78,1.3)" y="6.9" font-weight="bold" font-size="10.2" fill="#ff960f">J</text><text x="552.70" y="479.50" text-anchor="middle" font-size="12" fill="#3a3a3a">0</text><text x="598.08" y="479.50" text-anchor="middle" font-size="12" fill="#3a3a3a">0.5</text><text x="643.46" y="479.50" text-anchor="middle" font-size="12" fill="#3a3a3a">1</text><text x="688.84" y="479.50" text-anchor="middle" font-size="12" fill="#3a3a3a">1.5</text><text x="734.22" y="479.50" text-anchor="middle" font-size="12" fill="#3a3a3a">2</text><text x="779.60" y="479.50" text-anchor="middle" font-size="12" fill="#3a3a3a">2.5</text><text x="666.15" y="496.80" text-anchor="middle" font-size="13.1" fill="#3a3a3a">Time(h)</text><text x="173.3" y="14.0" text-anchor="middle" font-weight="bold" font-size="11.7" textLength="37.4" lengthAdjust="spacingAndGlyphs">Mate30</text><text x="419.1" y="14.0" text-anchor="middle" font-weight="bold" font-size="11.7" textLength="19.7" lengthAdjust="spacingAndGlyphs">V20</text><text x="663.7" y="14.0" text-anchor="middle" font-weight="bold" font-size="11.7" textLength="59" lengthAdjust="spacingAndGlyphs">Trimble R8</text><text transform="translate(17.7,89.9) rotate(-90)" text-anchor="middle" font-weight="bold" font-size="12.2" textLength="60.2" lengthAdjust="spacingAndGlyphs">The 1st EXP</text><text transform="translate(17.5,238.0) rotate(-90)" text-anchor="middle" font-weight="bold" font-size="12.2" textLength="63.3" lengthAdjust="spacingAndGlyphs">The 2nd EXP</text><text transform="translate(19.6,400.35) rotate(-90)" text-anchor="middle" font-weight="bold" font-size="12.2" textLength="63.3" lengthAdjust="spacingAndGlyphs">The 3rd EXP</text><text transform="translate(37.4,89.6) rotate(-90)" text-anchor="middle" font-size="13.0" fill="#2e2e2e" textLength="110.5" lengthAdjust="spacingAndGlyphs">Number of satellites</text><text transform="translate(37.4,238.7) rotate(-90)" text-anchor="middle" font-size="13.0" fill="#2e2e2e" textLength="110.5" lengthAdjust="spacingAndGlyphs">Number of satellites</text><text transform="translate(38.6,399.5) rotate(-90)" text-anchor="middle" font-size="13.0" fill="#2e2e2e" textLength="110.5" lengthAdjust="spacingAndGlyphs">Number of satellites</text></svg></body></html>
